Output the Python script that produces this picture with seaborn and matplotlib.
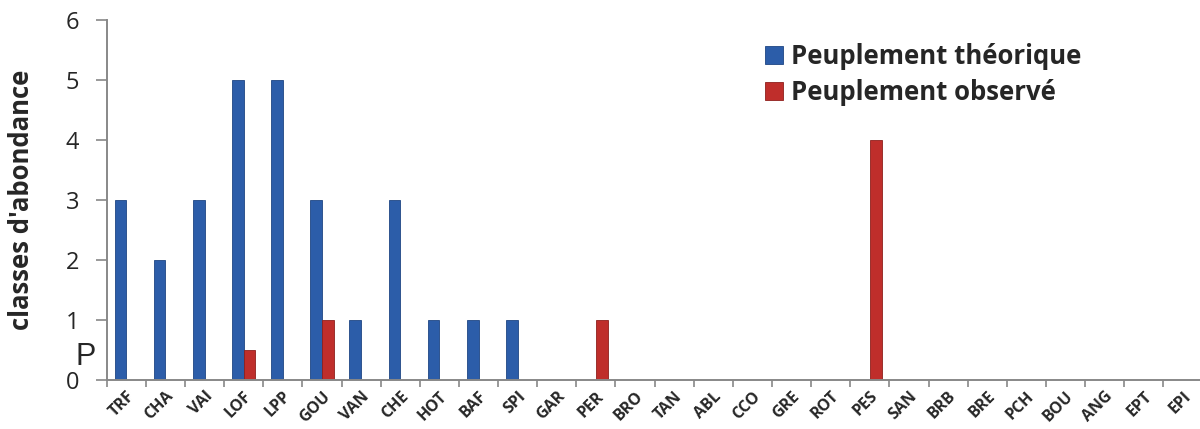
#!/usr/bin/env python3

import numpy as np
import pandas as pd
import seaborn as sns
import matplotlib as mpl
import matplotlib.pyplot as plt
from matplotlib.ticker import FixedLocator

sns.set_theme(style="white")
mpl.rcParams["font.family"] = ["Open Sans", "DejaVu Sans"]

especes = ["TRF", "CHA", "VAI", "LOF", "LPP", "GOU", "VAN", "CHE", "HOT", "BAF",
           "SPI", "GAR", "PER", "BRO", "TAN", "ABL", "CCO", "GRE", "ROT", "PES",
           "SAN", "BRB", "BRE", "PCH", "BOU", "ANG", "EPT", "EPI"]
theorique = [3, 2, 3, 5, 5, 3, 1, 3, 1, 1, 1, 0, 0, 0, 0, 0, 0, 0, 0, 0,
             0, 0, 0, 0, 0, 0, 0, 0]
observe = [0, 0, 0, 0.5, 0, 1, 0, 0, 0, 0, 0, 0, 1, 0, 0, 0, 0, 0, 0, 4,
           0, 0, 0, 0, 0, 0, 0, 0]
series = ["Peuplement théorique", "Peuplement observé"]
couleurs = ["#2C5DA9", "#BF2E2B"]
bords = ["#1E4684", "#8E1F1C"]

df = pd.DataFrame({
    "espece": especes * 2,
    "classe": theorique + observe,
    "peuplement": [series[0]] * len(especes) + [series[1]] * len(especes),
})

fig = plt.figure(figsize=(12, 4.29), dpi=100)
ax = fig.add_axes([0.089, 0.1142, 0.913, 0.8388])

sns.barplot(
    ax=ax, data=df, x="espece", y="classe", hue="peuplement",
    order=especes, hue_order=series,
    palette=couleurs, width=0.6, saturation=1,
    edgecolor=bords[0], linewidth=0.6,
)
for bar in ax.patches[len(especes):2 * len(especes)]:
    bar.set_edgecolor(bords[1])

ax.set_xlim(-0.5, len(especes) - 0.5)
ax.set_ylim(0, 6)
ax.set_yticks(range(0, 7))
ax.tick_params(axis="y", labelsize=17, length=8, width=1.2, color="#888888",
               direction="out", left=True, pad=12)
ax.set_xticks(range(len(especes)))
ax.set_xticklabels(especes, rotation=45, ha="right", rotation_mode="anchor",
                   fontsize=11.5, fontweight="bold")
ax.tick_params(axis="x", which="major", length=0, pad=6)
ax.xaxis.set_minor_locator(FixedLocator(np.arange(-0.5, len(especes), 1)))
ax.tick_params(axis="x", which="minor", length=5, width=1.2, color="#888888",
               direction="out", bottom=True)
for s in ["top", "right"]:
    ax.spines[s].set_visible(False)
for s in ["left", "bottom"]:
    ax.spines[s].set_color("#888888")
    ax.spines[s].set_linewidth(1.4)

ax.set_xlabel("")
ax.set_ylabel("classes d'abondance", fontsize=18.5, fontweight="bold", labelpad=22)

leg = ax.legend(loc="upper left", bbox_to_anchor=(0.58, 1.0), frameon=False,
                prop={"size": 18.5, "weight": "bold"}, handlelength=0.7, handleheight=0.7,
                handletextpad=0.3, labelspacing=0.35)
for h, b in zip(leg.legend_handles, bords):
    h.set_edgecolor(b)

fig.text(0.0625, 0.149, "P", fontsize=22, family="Liberation Sans")

fig.savefig("out.png", dpi=100)
